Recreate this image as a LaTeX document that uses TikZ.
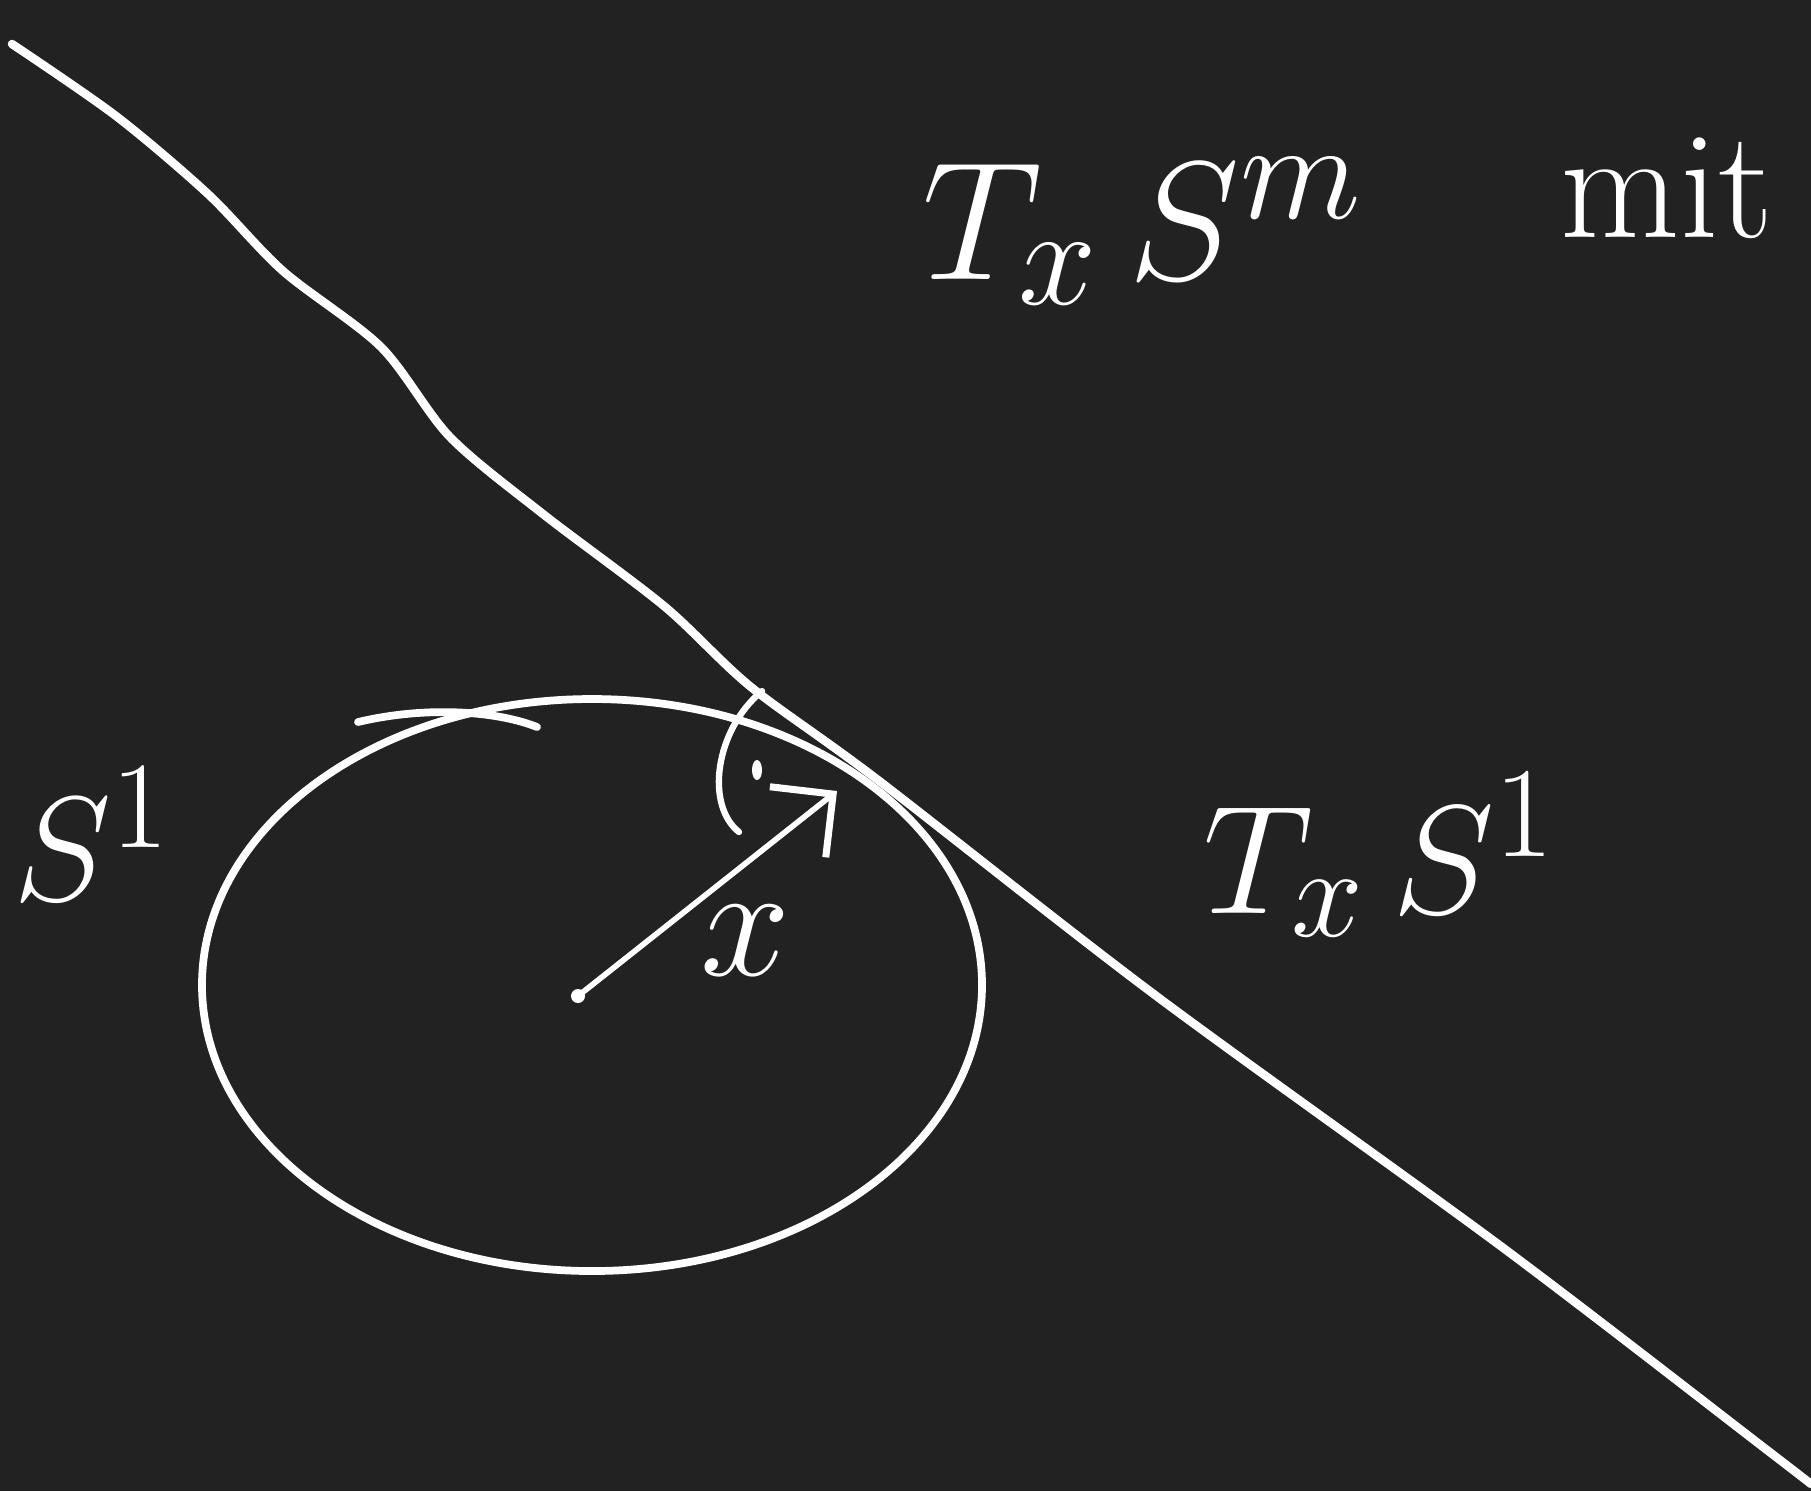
\documentclass[tikz,border=0pt]{standalone}
\usepackage{xcolor}
\usetikzlibrary{arrows.meta, positioning, calc}
\definecolor{BoardDark}{HTML}{232223}
\definecolor{ChalkWhite}{HTML}{FFFFFF}
\tikzset{
    chalk/.style={
        draw=ChalkWhite,
        line width=#1,
        line cap=round,
        line join=round
    },
    chalk/.default=2pt,
    chalklabel/.style={
        text=ChalkWhite,
        font=\Huge,
        inner sep=0pt,
        scale=#1
    },
    chalklabel/.default=1.85,
    vecarrow/.style={
        -{Straight Barb[length=4.5mm, width=9mm, line width=2pt]},
        chalk=1.6pt
    }
}

\begin{document}
\begin{tikzpicture}
        % Board
        \fill[BoardDark] (0,0) rectangle (18.11,-14.91);
        \useasboundingbox (0,0) rectangle (18.11,-14.91);
        \clip (0,0) rectangle (18.11,-14.91);

        % Points
        \coordinate (center) at (5.78,-9.96);
        \coordinate (touch) at (8.37,-7.91);

        % Tangent line
        \draw[chalk=2.4pt] plot[smooth, tension=0.5] coordinates {
            (0.12,-0.44) (1.16,-1.16) (2.08,-1.94) (2.83,-2.71) (3.81,-3.47)
            (4.50,-4.37) (5.43,-5.14) (6.64,-6.06) (7.51,-6.87) (8.78,-7.80)
            (11.55,-9.95) (15.02,-12.47) (17.67,-14.50) (18.11,-14.84)};

        % Circle
        \draw[chalk=2.2pt] (5.92,-9.85) ellipse [x radius=3.9, y radius=2.86];
        \draw[chalk=2.2pt] (3.58,-7.22) .. controls (4.3,-7.05) and (5.0,-7.12) .. (5.37,-7.27);

        % Radius vector
        \fill[ChalkWhite] (center) circle (0.07);
        \draw[vecarrow] (center) -- (touch);

        % Right angle mark
        \draw[chalk=1.8pt] (7.62,-6.91) .. controls (7.15,-7.3) and (7.05,-8.05) .. (7.39,-8.32);
        \fill[ChalkWhite] (7.57,-7.70) ellipse [x radius=0.05, y radius=0.1];

        % Labels
        \node[chalklabel=1.93] (tsm) at (11.43,-2.31) {$T_x\,S^m$};
        \node[text=ChalkWhite, font=\fontsize{44}{50}\selectfont, inner sep=0pt, anchor=base west] (mit) at (15.6,-2.37) {mit};
        \node[chalklabel=1.7] (sone) at (0.92,-8.34) {$S^1$};
        \node[chalklabel=1.77] (tsone) at (13.8,-8.55) {$T_x\,S^1$};
        \node[chalklabel] (xlab) at (7.45,-9.41) {$x$};
    \end{tikzpicture}
\end{document}
